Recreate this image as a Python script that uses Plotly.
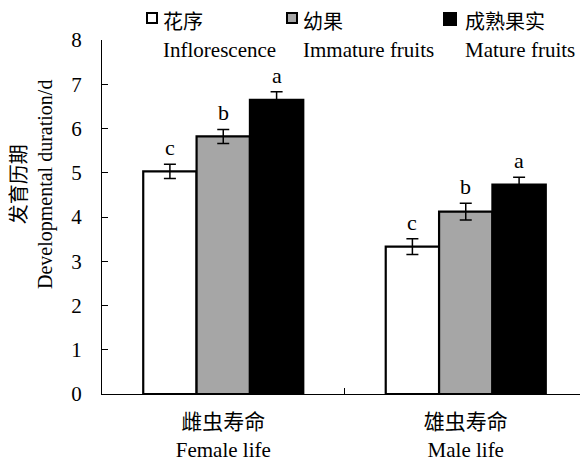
import plotly.graph_objects as go

categories = ["雌虫寿命<br>Female life", "雄虫寿命<br>Male life"]
series_names_cn = ["花序", "幼果", "成熟果实"]
series_names_en = ["Inflorescence", "Immature fruits", "Mature fruits"]
inflorescence = [5.03, 3.33]
immature = [5.82, 4.12]
mature = [6.65, 4.73]
inflorescence_err = [0.16, 0.18]
immature_err = [0.16, 0.19]
mature_err = [0.18, 0.17]
letters = [["c", "c"], ["b", "b"], ["a", "a"]]
colors = ["#ffffff", "#a6a6a6", "#000000"]

FONT = "Times New Roman, Liberation Serif, Noto Sans CJK SC, serif"
values = [inflorescence, immature, mature]
errs = [inflorescence_err, immature_err, mature_err]
bargap = 0.34

# page body has an 8px margin; design in screen coordinates
OFF = 8
W, H = 588, 461
AX_L, AX_R, AX_T, AX_B = 102, 587, 40, 394   # screen coords of plot area
L, T = AX_L - OFF, AX_T - OFF
R = W - (AX_R - OFF)
B = H - (AX_B - OFF)
PW, PH = W - L - R, H - T - B


def px(x):
    return (x - AX_L) / PW


def py(y):
    return (AX_B - y) / PH


fig = go.Figure()
for i in range(3):
    fig.add_trace(go.Bar(
        x=categories, y=values[i], name=series_names_cn[i],
        marker=dict(color=colors[i], line=dict(color="black", width=2.2)),
        error_y=dict(type="data", array=errs[i], color="black", thickness=1.5, width=6),
        showlegend=False,
    ))

# letters above error bars
w = (1 - bargap) / 3
anns = []
for i in range(3):
    for j in range(2):
        anns.append(dict(
            x=j + (i - 1) * w, y=values[i][j] + errs[i][j], xref="x", yref="y",
            text=letters[i][j], showarrow=False, yanchor="bottom", yshift=2,
            font=dict(family=FONT, size=22, color="black"),
        ))

# manual legend
leg_sq_x = [147, 287, 444]
leg_sq_w = [10, 10, 12]
leg_txt_x = [161, 301, 463]
shapes = []
for i in range(3):
    x0 = leg_sq_x[i]
    shapes.append(dict(type="rect", xref="paper", yref="paper",
                       x0=px(x0), x1=px(x0 + leg_sq_w[i]),
                       y0=py(13 + leg_sq_w[i]), y1=py(13),
                       fillcolor=colors[i], line=dict(color="black", width=2)))
    anns.append(dict(x=px(leg_txt_x[i]), y=py(22), xref="paper", yref="paper",
                     xanchor="left", yanchor="middle", showarrow=False,
                     text=series_names_cn[i], font=dict(family=FONT, size=20, color="black")))
    anns.append(dict(x=px(leg_txt_x[i]), y=py(50), xref="paper", yref="paper",
                     xanchor="left", yanchor="middle", showarrow=False,
                     text=series_names_en[i], font=dict(family=FONT, size=21, color="black")))

# y-axis title
anns.append(dict(x=px(33), y=py(185), xref="paper", yref="paper", textangle=-90,
                 xanchor="center", yanchor="middle", showarrow=False,
                 text="发育历期<br>Developmental duration/d",
                 font=dict(family=FONT, size=20, color="black")))

fig.update_layout(
    width=W, height=H,
    margin=dict(l=L, r=R, t=T, b=B),
    paper_bgcolor="white", plot_bgcolor="white",
    barmode="group", bargap=bargap, bargroupgap=0,
    font=dict(family=FONT, size=21, color="black"),
    annotations=anns, shapes=shapes,
    xaxis=dict(showline=True, linecolor="black", linewidth=1.2, ticks="inside",
               tickson="boundaries", ticklen=6, tickcolor="black", automargin=False,
               ticklabelstandoff=9,
               showgrid=False, tickfont=dict(family=FONT, size=21)),
    yaxis=dict(range=[0, 8], dtick=1, showline=True, linecolor="black", linewidth=1.2,
               ticks="inside", ticklen=6, tickcolor="black", showgrid=False, zeroline=False,
               automargin=False, ticklabelstandoff=15,
               tickfont=dict(family=FONT, size=21)),
)

fig.write_html("out.html")
